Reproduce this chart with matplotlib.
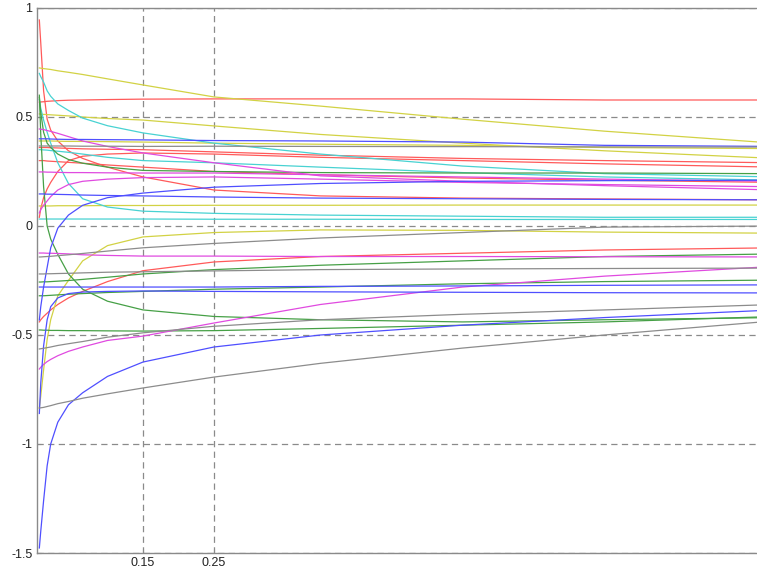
import matplotlib.pyplot as plt

# common sample positions along x (denser near the left where the curves are steep)
x_pts = [0.004, 0.006, 0.01, 0.015, 0.02, 0.03, 0.045, 0.065, 0.1, 0.15, 0.25, 0.4, 0.6, 0.8, 1.04]

red_lines = [
    [0.945, 0.84, 0.62, 0.49, 0.44, 0.39, 0.345, 0.31, 0.27, 0.225, 0.165, 0.138, 0.128, 0.124, 0.12],
    [0.568, 0.569, 0.57, 0.572, 0.573, 0.575, 0.577, 0.578, 0.58, 0.582, 0.583, 0.583, 0.583, 0.578, 0.578],
    [0.04, 0.08, 0.13, 0.17, 0.2, 0.25, 0.3, 0.32, 0.33, 0.335, 0.33, 0.315, 0.3, 0.285, 0.27],
    [0.36, 0.36, 0.36, 0.36, 0.359, 0.358, 0.356, 0.354, 0.352, 0.35, 0.34, 0.325, 0.31, 0.3, 0.29],
    [0.30, 0.30, 0.30, 0.298, 0.297, 0.295, 0.292, 0.288, 0.28, 0.27, 0.25, 0.235, 0.22, 0.21, 0.2],
    [-0.44, -0.43, -0.415, -0.40, -0.385, -0.36, -0.33, -0.3, -0.255, -0.205, -0.165, -0.14, -0.125, -0.11, -0.10],
]
yellow_lines = [
    [0.725, 0.724, 0.722, 0.72, 0.718, 0.712, 0.705, 0.695, 0.675, 0.647, 0.592, 0.55, 0.49, 0.435, 0.38],
    [0.514, 0.513, 0.512, 0.511, 0.51, 0.508, 0.505, 0.5, 0.493, 0.486, 0.459, 0.42, 0.38, 0.345, 0.31],
    [0.092, 0.092, 0.092, 0.092, 0.092, 0.093, 0.093, 0.093, 0.094, 0.094, 0.095, 0.095, 0.096, 0.096, 0.096],
    [0.39, 0.39, 0.39, 0.39, 0.39, 0.389, 0.388, 0.388, 0.387, 0.385, 0.38, 0.375, 0.37, 0.36, 0.355],
    [-0.835, -0.78, -0.66, -0.52, -0.43, -0.32, -0.25, -0.16, -0.09, -0.05, -0.03, -0.018, -0.02, -0.028, -0.033],
]
cyan_lines = [
    [0.70, 0.685, 0.66, 0.62, 0.595, 0.56, 0.53, 0.495, 0.46, 0.427, 0.38, 0.33, 0.275, 0.24, 0.225],
    [0.35, 0.35, 0.349, 0.348, 0.346, 0.343, 0.338, 0.33, 0.315, 0.30, 0.29, 0.27, 0.245, 0.225, 0.21],
    [0.032, 0.032, 0.032, 0.032, 0.032, 0.032, 0.032, 0.032, 0.032, 0.032, 0.031, 0.031, 0.03, 0.03, 0.03],
    [0.58, 0.54, 0.486, 0.43, 0.38, 0.29, 0.195, 0.125, 0.087, 0.068, 0.058, 0.05, 0.045, 0.04, 0.04],
]
green_lines = [
    [0.59, 0.52, 0.43, 0.38, 0.36, 0.33, 0.305, 0.288, 0.27, 0.255, 0.25, 0.245, 0.243, 0.243, 0.24],
    [0.60, 0.42, 0.18, 0.0, -0.06, -0.13, -0.22, -0.29, -0.345, -0.385, -0.415, -0.43, -0.44, -0.43, -0.42],
    [-0.477, -0.477, -0.478, -0.478, -0.479, -0.479, -0.48, -0.48, -0.481, -0.482, -0.48, -0.47, -0.455, -0.44, -0.415],
    [-0.257, -0.257, -0.256, -0.256, -0.255, -0.253, -0.25, -0.245, -0.235, -0.22, -0.2, -0.18, -0.16, -0.14, -0.128],
    [-0.32, -0.32, -0.32, -0.319, -0.318, -0.316, -0.313, -0.31, -0.305, -0.30, -0.29, -0.28, -0.265, -0.255, -0.248],
]
magenta_lines = [
    [0.445, 0.444, 0.442, 0.438, 0.434, 0.425, 0.41, 0.39, 0.365, 0.335, 0.29, 0.23, 0.205, 0.185, 0.165],
    [0.248, 0.248, 0.248, 0.247, 0.247, 0.246, 0.245, 0.245, 0.244, 0.243, 0.243, 0.235, 0.225, 0.215, 0.205],
    [0.06, 0.075, 0.095, 0.115, 0.135, 0.165, 0.19, 0.205, 0.215, 0.222, 0.225, 0.215, 0.2, 0.19, 0.18],
    [-0.656, -0.648, -0.635, -0.622, -0.612, -0.595, -0.575, -0.555, -0.525, -0.505, -0.445, -0.36, -0.28, -0.23, -0.185],
    [-0.124, -0.124, -0.124, -0.125, -0.125, -0.126, -0.128, -0.132, -0.135, -0.138, -0.138, -0.14, -0.14, -0.141, -0.142],
]
blue_lines = [
    [0.40, 0.40, 0.40, 0.40, 0.399, 0.398, 0.397, 0.397, 0.396, 0.395, 0.392, 0.39, 0.385, 0.37, 0.365],
    [0.147, 0.147, 0.147, 0.146, 0.146, 0.145, 0.144, 0.142, 0.14, 0.138, 0.133, 0.128, 0.125, 0.122, 0.12],
    [-0.431, -0.37, -0.28, -0.19, -0.1, -0.01, 0.05, 0.095, 0.13, 0.151, 0.178, 0.195, 0.205, 0.208, 0.21],
    [-1.477, -1.40, -1.26, -1.10, -1.0, -0.9, -0.82, -0.765, -0.69, -0.624, -0.555, -0.5, -0.455, -0.42, -0.385],
    [-0.28, -0.28, -0.28, -0.28, -0.28, -0.28, -0.28, -0.28, -0.28, -0.28, -0.28, -0.277, -0.275, -0.272, -0.27],
    [-0.86, -0.72, -0.55, -0.43, -0.37, -0.33, -0.31, -0.303, -0.3, -0.298, -0.3, -0.302, -0.304, -0.306, -0.307],
]
gray_lines = [
    [0.367, 0.367, 0.367, 0.367, 0.367, 0.367, 0.367, 0.366, 0.366, 0.365, 0.366, 0.365, 0.364, 0.363, 0.362],
    [-0.142, -0.142, -0.141, -0.14, -0.139, -0.136, -0.132, -0.126, -0.115, -0.1, -0.08, -0.055, -0.03, -0.005, 0.0],
    [-0.22, -0.22, -0.22, -0.219, -0.219, -0.218, -0.217, -0.215, -0.212, -0.21, -0.206, -0.2, -0.197, -0.195, -0.193],
    [-0.564, -0.563, -0.561, -0.558, -0.555, -0.548, -0.54, -0.53, -0.51, -0.49, -0.46, -0.43, -0.405, -0.385, -0.36],
    [-0.835, -0.834, -0.832, -0.828, -0.824, -0.815, -0.805, -0.79, -0.77, -0.743, -0.693, -0.63, -0.56, -0.5, -0.435],
]

x_ticks = [0.15, 0.25]
y_ticks = [-1.5, -1, -0.5, 0, 0.5, 1]
y_labels = ["-1.5", "-1", "-0.5", "0", "0.5", "1"]

plt.rcParams['font.family'] = ['Liberation Sans', 'DejaVu Sans']

fig = plt.figure(figsize=(7.57, 5.76), dpi=100)
# axes runs past the right edge of the picture, like the reference crop
ax = fig.add_axes([36.5 / 757, 23 / 576, 738.4 / 757, 545 / 576])

groups = [
    (red_lines, '#ff5a5a'),
    (yellow_lines, '#d2d244'),
    (cyan_lines, '#48d2d2'),
    (green_lines, '#46a046'),
    (magenta_lines, '#e04ae0'),
    (blue_lines, '#4f4fff'),
    (gray_lines, '#8c8c8c'),
]
for lines, col in groups:
    for ys in lines:
        ax.plot(x_pts, ys, color=col, linewidth=0.9)

ax.set_xlim(0, 1.04)
ax.set_ylim(-1.5, 1)
ax.set_xticks(x_ticks)
ax.set_xticklabels([str(v) for v in x_ticks])
ax.set_yticks(y_ticks)
ax.set_yticklabels(y_labels)
ax.grid(True, color='#8a8a8a', linestyle=(0, (5, 3.5)), linewidth=0.9)
ax.set_axisbelow(True)

for s in ax.spines.values():
    s.set_color('#8a8a8a')
    s.set_linewidth(1.0)
ax.tick_params(direction='in', length=3, color='#8a8a8a', labelsize=9, pad=3, labelcolor='#222222')

fig.savefig("out.png", dpi=100)
